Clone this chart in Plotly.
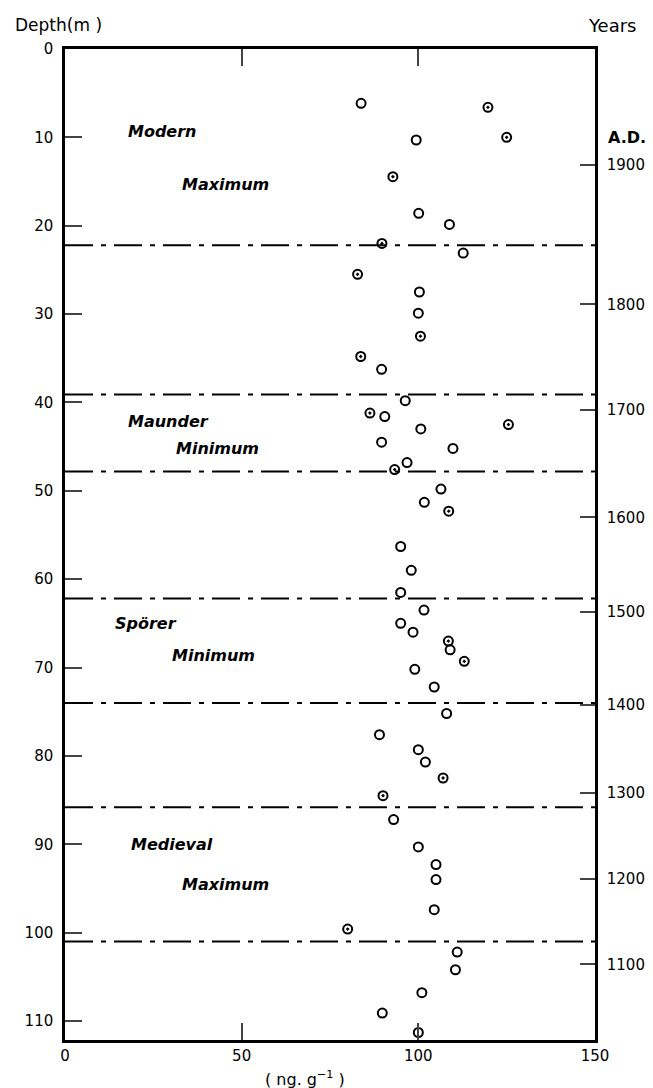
import plotly.graph_objects as go

# Concentration profile (ng g-1) against depth (m); circles with a centre dot flagged separately
depth_open = [6.15, 10.3, 18.6, 19.85, 23.1, 27.5, 29.9, 36.25, 39.8, 41.6, 43.0, 44.5, 45.2,
              46.8, 49.8, 51.3, 56.3, 59.0, 61.5, 63.5, 65.0, 66.0, 68.0, 70.2, 72.2, 75.2,
              77.6, 79.3, 80.7, 87.2, 90.3, 92.3, 94.0, 97.4, 102.2, 104.2, 106.8, 109.1, 111.3]
conc_open = [83.8, 99.4, 100.1, 108.8, 112.7, 100.3, 100.0, 89.6, 96.3, 90.5, 100.7, 89.6, 109.8,
             96.8, 106.4, 101.7, 95.0, 98.0, 95.0, 101.6, 95.0, 98.5, 109.0, 99.0, 104.5, 108.0,
             89.0, 100.0, 102.0, 93.0, 100.0, 105.0, 105.0, 104.5, 111.0, 110.5, 101.0, 89.8, 100.0]

depth_dot = [6.6, 10.0, 14.45, 22.0, 25.5, 32.5, 34.8, 41.2, 42.5, 47.6, 52.3, 67.0, 69.3,
             82.5, 84.5, 99.6]
conc_dot = [119.7, 125.0, 92.8, 89.7, 82.8, 100.6, 83.7, 86.3, 125.5, 93.3, 108.6, 108.5, 113.0,
            107.0, 90.0, 80.0]

# Period boundaries (m)
boundaries = [22.2, 39.1, 47.8, 62.2, 74.0, 85.8, 101.0]

# Period names: (text, x value, depth)
period_labels = [("Modern", 27.7, 9.3), ("Maximum", 45.3, 15.3),
                 ("Maunder", 29.2, 42.1), ("Minimum", 43.3, 45.2),
                 ("Spörer", 23.0, 65.0), ("Minimum", 42.0, 68.6),
                 ("Medieval", 30.3, 90.0), ("Maximum", 45.3, 94.6)]

# Age scale on the right: depth of each year mark
year_depths = [13.1, 28.9, 40.8, 53.0, 63.7, 74.2, 84.2, 93.9, 103.6]
year_labels = ["1900", "1800", "1700", "1600", "1500", "1400", "1300", "1200", "1100"]

depth_ticks = list(range(0, 111, 10))
x_ticks = [0, 50, 100, 150]
depth_range = [112.15, 0]

FONT = "DejaVu Sans"

fig = go.Figure()
fig.add_trace(go.Scatter(x=conc_open, y=depth_open, mode="markers",
                         marker=dict(symbol="circle-open", size=9, color="black",
                                     line=dict(width=2, color="black")),
                         showlegend=False))
fig.add_trace(go.Scatter(x=conc_dot, y=depth_dot, mode="markers",
                         marker=dict(symbol="circle-open-dot", size=9, color="black",
                                     line=dict(width=2, color="black")),
                         showlegend=False))
# invisible anchor points for the right-hand age axis
fig.add_trace(go.Scatter(x=[150] * len(year_depths), y=year_depths, yaxis="y2",
                         mode="markers", marker=dict(opacity=0), hoverinfo="skip",
                         showlegend=False))

for d in boundaries:
    fig.add_shape(type="line", xref="paper", x0=0, x1=1, yref="y", y0=d, y1=d,
                  line=dict(color="black", width=2, dash="28px,8px,5px,8px"))

for text, xv, dv in period_labels:
    fig.add_annotation(x=xv, y=dv, text=text, showarrow=False, xanchor="center",
                       font=dict(family=FONT, size=16, color="black", style="italic",
                                 weight="bold"))

fig.add_annotation(xref="paper", yref="paper", x=-0.098, y=1.024, text="Depth(m )",
                   showarrow=False, xanchor="left", yanchor="middle",
                   font=dict(family=FONT, size=17, color="black"))
fig.add_annotation(xref="paper", yref="paper", x=1.0, xshift=-9, y=1.024, text="Years",
                   showarrow=False, xanchor="left", yanchor="middle",
                   font=dict(family=FONT, size=18, color="black"))
fig.add_annotation(xref="paper", yref="y", x=1.0, xshift=11, y=year_depths[0], yshift=27,
                   text="A.D.", showarrow=False, xanchor="left", yanchor="middle",
                   font=dict(family=FONT, size=16, color="black", weight="bold"))
fig.add_annotation(xref="x", yref="paper", x=68, y=0, yshift=-38,
                   text="( ng. g<sup>−1</sup> )",
                   showarrow=False, xanchor="center", yanchor="middle",
                   font=dict(family=FONT, size=16, color="black"))

fig.update_layout(
    width=653, height=1088,
    margin=dict(l=65, r=58, t=49, b=48),
    paper_bgcolor="white", plot_bgcolor="white",
    xaxis=dict(range=[0, 150], tickvals=x_ticks, ticks="inside", ticklen=17, tickwidth=2,
               showline=True, linewidth=2.5, linecolor="black", mirror="ticks",
               showgrid=False, zeroline=False, automargin=False,
               tickfont=dict(family=FONT, size=15, color="black")),
    yaxis=dict(range=depth_range, tickvals=depth_ticks, ticks="inside", ticklen=17,
               tickwidth=2, showline=True, linewidth=2.5, linecolor="black",
               showgrid=False, zeroline=False, automargin=False, ticklabelstandoff=6,
               tickfont=dict(family=FONT, size=15, color="black")),
    yaxis2=dict(range=depth_range, overlaying="y", side="right", tickvals=year_depths,
                ticktext=year_labels, ticks="inside", ticklen=15, tickwidth=2,
                showline=True, linewidth=2.5, linecolor="black", showgrid=False,
                zeroline=False, automargin=False, ticklabelstandoff=6,
                tickfont=dict(family=FONT, size=15, color="black")),
)

fig.write_html("out.html")
